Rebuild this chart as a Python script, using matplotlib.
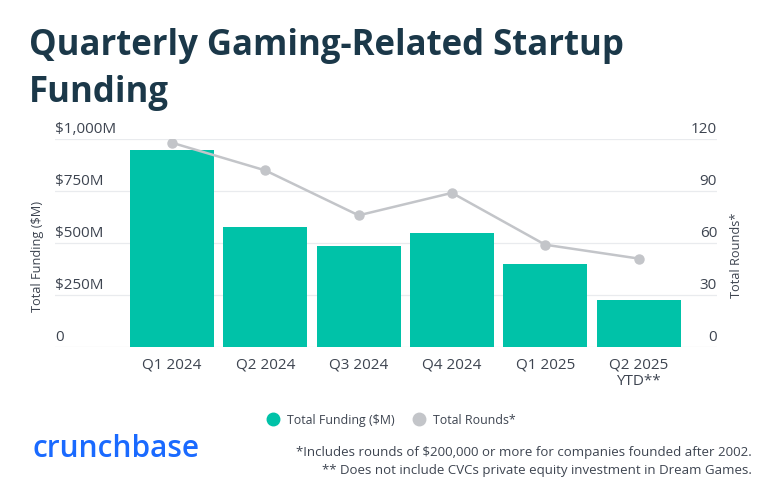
import numpy as np
import matplotlib.pyplot as plt
from matplotlib.lines import Line2D

# data
quarters = ["Q1 2024", "Q2 2024", "Q3 2024", "Q4 2024", "Q1 2025", "Q2 2025\nYTD**"]
funding = [947, 579, 487, 550, 397, 225]      # $M
rounds = [118, 102, 76, 89, 59, 51]
left_ticks = [0, 250, 500, 750, 1000]
left_labels = ["0", "$250M", "$500M", "$750M", "$1,000M"]
right_ticks = [0, 30, 60, 90, 120]

teal = "#00c2a8"
grey = "#c3c5c9"
navy = "#1b3849"
txt = "#3d4450"

plt.rcParams['font.family'] = ['Open Sans', 'DejaVu Sans']

fig = plt.figure(figsize=(7.72, 4.98), dpi=100)
W, H = 772, 498
ax = fig.add_axes([55 / W, 1 - 346.7 / H, 662 / W, 207.4 / H])
ax2 = ax.twinx()

x = np.arange(len(quarters))
ax.bar(x, funding, width=0.9, color=teal, zorder=2)
ax.set_xlim(-1.254, 5.841)
ax.set_ylim(0, 1000)
ax2.set_ylim(0, 120)

ax2.plot(x, rounds, color=grey, lw=1.8, marker='o', markersize=6.5, zorder=3)

# gridlines
for t in left_ticks:
    ax.axhline(t, color="#e9ebee", lw=0.9, zorder=0)

for a in (ax, ax2):
    for s in a.spines.values():
        s.set_visible(False)
    a.tick_params(left=False, right=False, bottom=False, labelleft=False, labelright=False)
    a.set_yticks([])

ax.set_xticks(x)
ax.set_xticklabels(quarters, fontsize=11, color=txt, linespacing=1.15, va='top')
ax.tick_params(axis='x', pad=4)

# y tick labels sit above the gridlines
for t, lab in zip(left_ticks, left_labels):
    ax.annotate(lab, xy=(0, t), xycoords=ax.get_yaxis_transform(),
                xytext=(0, 1.5), textcoords='offset points', ha='left', va='bottom',
                fontsize=11, color=txt)
for t in right_ticks:
    ax2.annotate(str(t), xy=(1, t), xycoords=ax2.get_yaxis_transform(),
                 xytext=(0, 1.5), textcoords='offset points', ha='right', va='bottom',
                 fontsize=11, color=txt)

fig.text(37 / W, 1 - 256 / H, "Total Funding ($M)", rotation=90, ha='center', va='center',
         fontsize=9.2, color=txt)
fig.text(737 / W, 1 - 255 / H, "Total Rounds*", rotation=90, ha='center', va='center',
         fontsize=9.2, color=txt)

# title
fig.text(29 / W, 1 - 55 / H, "Quarterly Gaming-Related Startup", fontsize=25,
         fontweight='bold', color=navy, ha='left', va='baseline')
fig.text(29 / W, 1 - 102 / H, "Funding", fontsize=25,
         fontweight='bold', color=navy, ha='left', va='baseline')

# legend
handles = [Line2D([], [], marker='o', ls='', color=teal, markersize=9),
           Line2D([], [], marker='o', ls='', color=grey, markersize=9)]
fig.legend(handles, ["Total Funding ($M)", "Total Rounds*"], loc='center',
           bbox_to_anchor=(388 / W, 1 - 420 / H), ncol=2, frameon=False,
           fontsize=8.9, labelcolor=txt, handletextpad=0.1, columnspacing=1.0)

# logo and footnotes
fig.text(32 / W, 1 - 449 / H, "crunchbase", fontsize=21.5, fontweight='semibold',
         color="#1a6aff", ha='left', va='center')
fig.text(752 / W, 1 - 452 / H,
         "*Includes rounds of $200,000 or more for companies founded after 2002.",
         fontsize=9.5, color=txt, ha='right', va='center')
fig.text(752 / W, 1 - 470 / H,
         "** Does not include CVCs private equity investment in Dream Games.",
         fontsize=9.5, color=txt, ha='right', va='center')

fig.savefig("out.png", dpi=100)
